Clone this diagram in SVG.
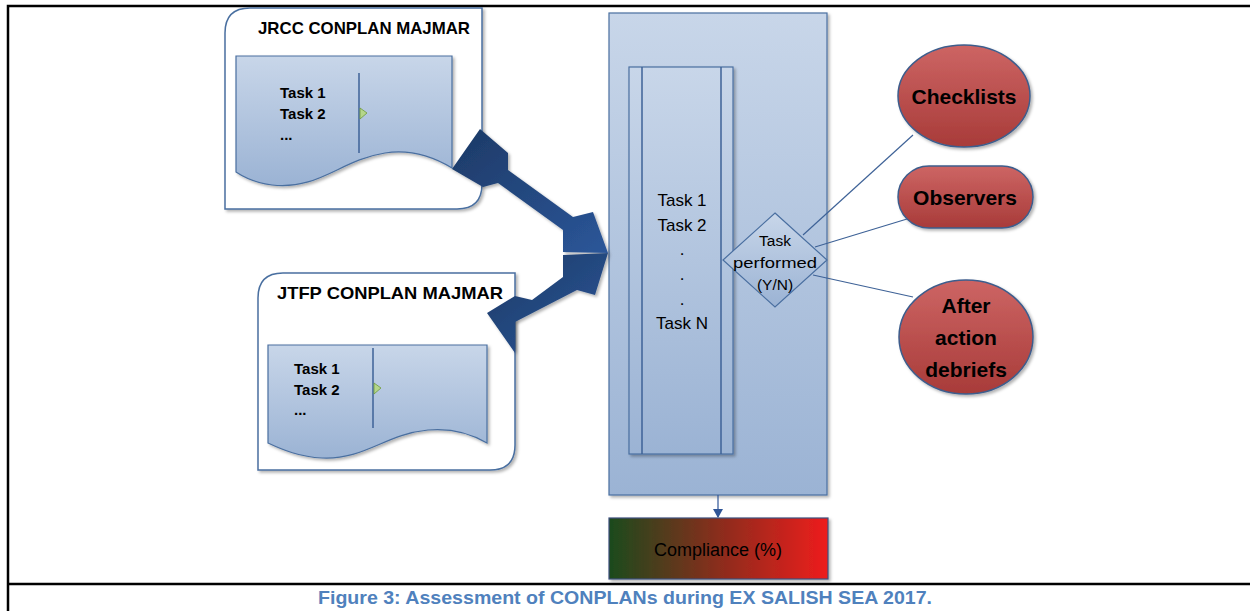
<svg xmlns="http://www.w3.org/2000/svg" width="1250" height="611" viewBox="0 0 1250 611">
<defs>
<linearGradient id="gBlue" x1="0" y1="0" x2="0" y2="1"><stop offset="0" stop-color="#c8d6e9"/><stop offset="1" stop-color="#9bb3d4"/></linearGradient>
<linearGradient id="gRed" x1="0" y1="0" x2="0" y2="1"><stop offset="0" stop-color="#cd6564"/><stop offset="1" stop-color="#a83b39"/></linearGradient>
<linearGradient id="gComp" x1="0" y1="0" x2="1" y2="0"><stop offset="0" stop-color="#1b4a1c"/><stop offset="0.5" stop-color="#8a2d1c"/><stop offset="1" stop-color="#ee1d1f"/></linearGradient>
<linearGradient id="gArrow" x1="0" y1="0" x2="1" y2="1"><stop offset="0" stop-color="#1d3a66"/><stop offset="1" stop-color="#2b5699"/></linearGradient>
<marker id="ah" markerWidth="10" markerHeight="10" refX="8" refY="5" orient="auto" markerUnits="userSpaceOnUse"><path d="M0,0 L9,5 L0,10 Z" fill="#2f5597"/></marker>
<filter id="sh" x="-10%" y="-10%" width="130%" height="130%"><feDropShadow dx="2" dy="2" stdDeviation="1.5" flood-color="#000" flood-opacity="0.3"/></filter>
</defs>
<style>
.frame{fill:#fff;stroke:#4a6fa0;stroke-width:1.5}
.doc{fill:url(#gBlue);stroke:#4a6fa0;stroke-width:1.2}
.ln{stroke:#3e6297;stroke-width:1.5;fill:none}
.red{fill:url(#gRed);stroke:#3d5d8c;stroke-width:1.5}
.t{font-family:"Liberation Sans",Arial,sans-serif;fill:#000}
.b{font-weight:bold}
.con{stroke:#3e6297;stroke-width:1.2;fill:none}
.border{stroke:#000;stroke-width:2.5;fill:none}
</style>
<rect width="1250" height="611" fill="#fff"/>
<g id="page-frame">
<path class="border" d="M8,611 V6 H1250"/>
<path class="border" d="M8,584 H1250"/>
</g>

<g id="jrcc">
<path class="frame" filter="url(#sh)" d="M250,8 H482 V184 Q482,209 457,209 H225 V33 Q225,8 250,8 Z"/>
<text class="t b" x="258" y="34" font-size="17" textLength="212" lengthAdjust="spacingAndGlyphs">JRCC CONPLAN MAJMAR</text>
<path class="doc" filter="url(#sh)" d="M236,56 H452 V168 C432,156 410,149 385,153 C340,160 320,190 272,185 C256,183 245,178 236,172 Z"/>
<line class="ln" x1="359" y1="73" x2="359" y2="153"/>
<path d="M360,108 L367,113 L360,119 Z" fill="#b5d68a" stroke="#6f9a3c" stroke-width="0.8"/>
<text class="t b" x="280" y="98" font-size="15">Task 1</text>
<text class="t b" x="280" y="119" font-size="15">Task 2</text>
<text class="t b" x="280" y="140" font-size="15">...</text>
</g>

<g id="jtfp">
<path class="frame" filter="url(#sh)" d="M283,273 H515 V445 Q515,470 490,470 H258 V298 Q258,273 283,273 Z"/>
<text class="t b" x="277" y="299" font-size="17" textLength="226" lengthAdjust="spacingAndGlyphs">JTFP CONPLAN MAJMAR</text>
<path class="doc" filter="url(#sh)" d="M268,345 H487 V443 C470,433 450,428 428,430 C385,434 365,460 322,458 C300,457 283,450 268,443 Z"/>
<line class="ln" x1="373" y1="348" x2="373" y2="428"/>
<path d="M374,383 L381,388 L374,394 Z" fill="#b5d68a" stroke="#6f9a3c" stroke-width="0.8"/>
<text class="t b" x="294" y="374" font-size="15">Task 1</text>
<text class="t b" x="294" y="395" font-size="15">Task 2</text>
<text class="t b" x="294" y="415" font-size="15">...</text>
</g>

<g id="main">
<rect x="609" y="13" width="218" height="482" fill="url(#gBlue)" stroke="#4a6fa0" stroke-width="1.2" filter="url(#sh)"/>
<rect x="629" y="67" width="104" height="387" fill="url(#gBlue)" stroke="#4a6fa0" stroke-width="1.2" filter="url(#sh)"/>
<line class="ln" x1="642" y1="67" x2="642" y2="454" stroke-width="1.2"/>
<line class="ln" x1="721" y1="67" x2="721" y2="454" stroke-width="1.2"/>
<g class="t" font-size="17" text-anchor="middle">
<text x="682" y="206">Task 1</text>
<text x="682" y="231">Task 2</text>
<text x="682" y="255">.</text>
<text x="682" y="280">.</text>
<text x="682" y="305">.</text>
<text x="682" y="329">Task N</text>
</g>
</g>

<g id="decision">
<path d="M775,213 L827,260 L775,307 L723,260 Z" fill="url(#gBlue)" stroke="#4a6fa0" stroke-width="1.2"/>
<g class="t" font-size="15.5" text-anchor="middle">
<text x="775" y="246">Task</text>
<text x="775" y="268" textLength="84" lengthAdjust="spacingAndGlyphs">performed</text>
<text x="775" y="290">(Y/N)</text>
</g>
</g>

<g id="checklists">
<ellipse class="red" cx="964" cy="96" rx="66" ry="51" filter="url(#sh)"/>
<text class="t b" x="964" y="104" font-size="21" text-anchor="middle">Checklists</text>
</g>
<g id="observers">
<rect class="red" x="898" y="166" width="135" height="62" rx="31" ry="31" filter="url(#sh)"/>
<text class="t b" x="965" y="205" font-size="21" text-anchor="middle">Observers</text>
</g>
<g id="debriefs">
<ellipse class="red" cx="966" cy="337" rx="67" ry="57" filter="url(#sh)"/>
<g class="t b" font-size="21" text-anchor="middle">
<text x="966" y="313">After</text>
<text x="966" y="345">action</text>
<text x="966" y="377">debriefs</text>
</g>
</g>

<g id="compliance">
<rect x="609" y="518" width="219" height="61" fill="url(#gComp)" stroke="#3d4f7c" stroke-width="1.2" filter="url(#sh)"/>
<text class="t" x="718" y="556" font-size="18" text-anchor="middle">Compliance (%)</text>
</g>

<g id="connectors">
<path fill="url(#gArrow)" filter="url(#sh)" d="M608,253 L593,212 L573,217 L508,170 L508,153 L480,129 L452,169 L483,187 L498,183 L563,230 L563,252 Z"/>
<path fill="url(#gArrow)" filter="url(#sh)" d="M608,253 L563,255 L563,277 L532,300 L515,296 L487,313 L515,353 L515,322 L577,290 L595,295 Z"/>
<line class="con" x1="803" y1="235" x2="913" y2="135"/>
<line class="con" x1="815" y1="247" x2="907" y2="219"/>
<line class="con" x1="813" y1="275" x2="913" y2="297"/>
<line x1="718" y1="495" x2="718" y2="517" stroke="#2f5597" stroke-width="1.2" marker-end="url(#ah)"/>
</g>

<text id="caption" class="t b" x="625" y="604" font-size="17.5" style="fill:#4f81bd" text-anchor="middle" textLength="614" lengthAdjust="spacingAndGlyphs">Figure 3: Assessment of CONPLANs during EX SALISH SEA 2017.</text>
</svg>
